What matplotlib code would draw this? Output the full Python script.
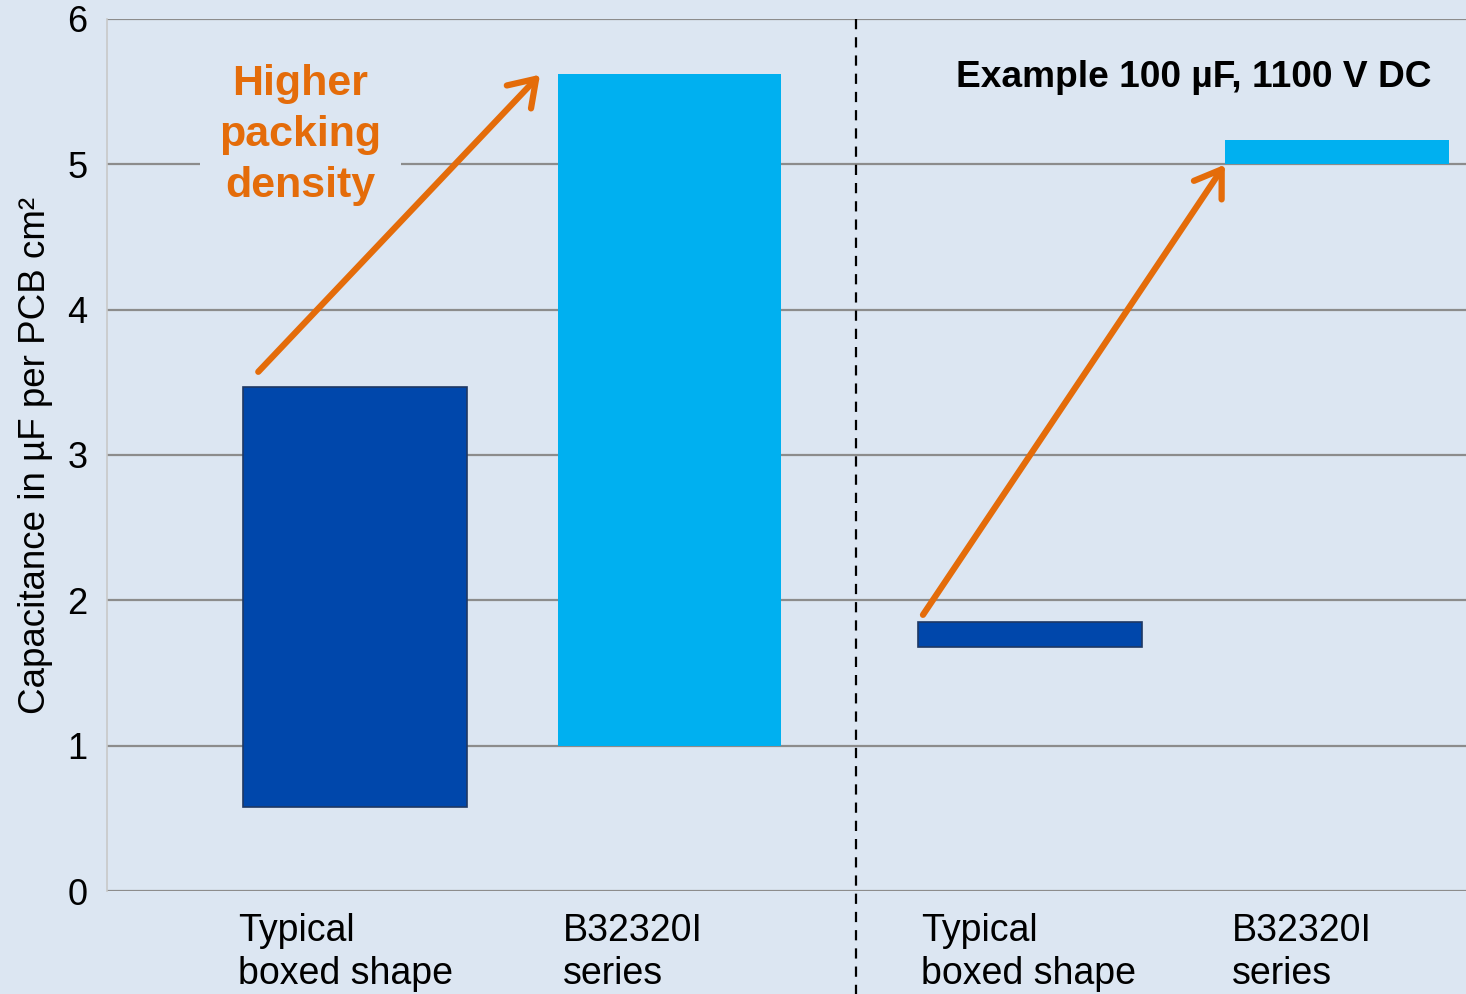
import numpy as np
import matplotlib
matplotlib.use("Agg")
import matplotlib.pyplot as plt
import matplotlib.transforms as mtransforms

# Daten (schwebende Balken: von low bis high)
categories = ['Typical\nboxed shape', 'B32320I\nseries', 'Typical\nboxed shape', 'B32320I\nseries']
low = [0.58, 1.0, 1.68, 5.0]
high = [3.47, 5.62, 1.85, 5.17]
yticks = [0, 1, 2, 3, 4, 5, 6]

# Layout
xpos = np.array([0.0, 1.0, 2.145, 3.124])
label_shift = [-0.016, 0.016, 0.01, 0.019]
width = 0.712
colors = ['#0047AB', '#00B0F0', '#0047AB', '#00B0F0']
edges = ['#1F3864', 'none', '#1F3864', 'none']
bg = '#DCE6F2'
orange = '#E46C0A'

plt.rcParams['font.family'] = ['Liberation Sans', 'DejaVu Sans']

fig = plt.figure(figsize=(14.66, 9.94), dpi=100)
fig.patch.set_facecolor(bg)
ax = fig.add_axes([0.073, 0.1036, 0.927, 0.8774])
ax.set_facecolor(bg)

heights = np.array(high) - np.array(low)
ax.bar(xpos, heights, bottom=low, width=width, color=colors,
       edgecolor=edges, linewidth=1.2, zorder=3)

ax.set_xlim(-0.789, 3.533)
ax.set_ylim(0, 6)
ax.set_yticks(yticks)
ax.tick_params(axis='y', length=0, labelsize=26, pad=14)
ax.set_xticks([])
ax.yaxis.grid(True, color='#8C8C8C', linewidth=1.6, zorder=0)
ax.set_axisbelow(True)
for s in ['top', 'right', 'bottom']:
    ax.spines[s].set_visible(False)
ax.spines['left'].set_color('#C8C8C8')
ax.spines['left'].set_linewidth(1.2)

ax.set_ylabel('Capacitance in µF per PCB cm²', fontsize=26.5, labelpad=10)

# Kategorienbeschriftungen (linksbündig an der Balkenkante)
trans = mtransforms.blended_transform_factory(ax.transData, ax.transAxes)
for x, dx, lab in zip(xpos, label_shift, categories):
    ax.text(x - width / 2 + dx, -0.025, lab, transform=trans, ha='left',
            va='top', fontsize=27, linespacing=1.27)

# Trennlinie
ax.plot([1.593, 1.593], [-0.75, 6], color='black', linewidth=1.6,
        linestyle=(0, (4.6, 3.6)), clip_on=False, zorder=4)

# Pfeile
arrow = dict(arrowstyle='->,head_length=0.6,head_width=0.4', color=orange,
             lw=4.5, mutation_scale=30, shrinkA=0, shrinkB=0,
             capstyle='round', joinstyle='round')
ax.annotate('', xy=(0.588, 5.616), xytext=(-0.308, 3.572), arrowprops=arrow, zorder=5)
ax.annotate('', xy=(2.766, 4.997), xytext=(1.806, 1.90), arrowprops=arrow, zorder=5)

ax.text(-0.175, 5.20, 'Higher\npacking\ndensity', ha='center', va='center',
        fontsize=31, fontweight='bold', color=orange, linespacing=1.36,
        bbox=dict(facecolor=bg, edgecolor='none', pad=14), zorder=4)

ax.text(3.424, 5.60, 'Example 100 µF, 1100 V DC', ha='right', va='center',
        fontsize=26.7, fontweight='bold', color='black', zorder=4)

fig.savefig('out.png', dpi=100, facecolor=bg)
